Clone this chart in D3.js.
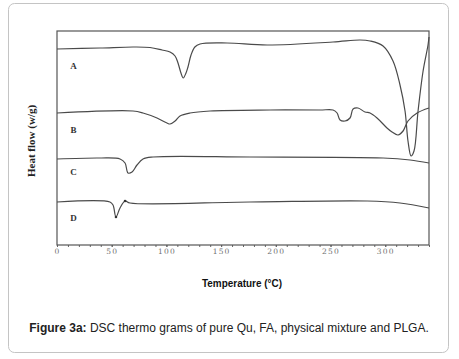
<!DOCTYPE html>
<html>
<head>
<meta charset="utf-8">
<script src="https://cdn.jsdelivr.net/npm/d3@7"></script>
<style>
  body { margin: 0; background: #fff; }
  .tick text { font-family: "DejaVu Serif", serif; font-size: 7.5px; fill: #707070; letter-spacing: 1.2px; }
  .curve { fill: none; stroke: #4a4a4a; stroke-width: 1.2; }
  .curveLabel { font-family: "Liberation Serif", serif; font-weight: bold; font-size: 9px; fill: #333; }
</style>
</head>
<body>
<div id="chart"></div>
<script>
// DSC thermograms: temperature (°C) vs heat flow (arbitrary units, curves offset)
const seriesNames = ["A", "B", "C", "D"];

const curveA = [[0,19.6],[39.3,19.7],[69.5,19.8],[85,19.75],[96,19.5],[103.3,19.3],[107.9,18.9],[110.6,18.2],
  [113.3,17.2],[115.4,16.7],[117.9,17.2],[119.7,17.8],[122.5,19.0],[126,19.8],[130.7,20.1],[155.4,20.2],[192,20.0],
  [252.3,20.3],[277,20.5],[286.1,20.4],[298,19.9],[307.1,18.4],[313.5,16.0],[318.1,13.4],[320.8,10.4],
  [323.6,8.9],[326.3,9.4],[330,13.4],[334.6,17.4],[339.1,20.0],[340,20.8]];

const curveB = [[0,13.2],[69.5,13.4],[78.6,13.2],[91.4,12.7],[100.5,12.2],[103.3,12.1],[107.9,12.4],[112.4,12.9],
  [121.6,13.2],[139.9,13.4],[194.7,13.5],[240.4,13.5],[252.3,13.5],[256,13.2],[258.7,12.5],[263.3,12.4],
  [267.8,12.7],[270.6,13.6],[275.1,13.7],[281.5,13.3],[286.1,13.2],[292.5,12.7],[301.6,11.7],[306.2,11.3],
  [311.7,11.0],[316.3,11.4],[320.8,12.4],[329.1,13.2],[340,13.7]];

const curveC = [[0,8.6],[39.3,8.7],[57.6,8.6],[62.2,8.2],[64.9,7.2],[68.6,7.3],[73.1,8.0],[78.6,8.6],
  [87.8,8.8],[176.4,8.8],[298,8.7],[322.7,8.5],[340,8.2]];

const curveD = [[0,4.3],[48.4,4.3],[51.2,4.0],[53.9,2.8],[57.6,3.7],[62.2,4.4],[66.7,4.2],[176.4,4.3],
  [283.4,4.4],[313.5,4.2],[340,3.7]];

// little dots drawn on the PLGA trace (min and overshoot)
const markD = [[53.9,2.8],[62.2,4.4]];

// where the A/B/C/D letters sit, in data units
const labelValues = [17.9, 11.5, 7.3, 2.7];

const xTicks = [0, 50, 100, 150, 200, 250, 300];
const xMinorTicks = d3.range(0, 341, 10);

const width = 459, height = 359;
const margin = {top: 31, left: 57, right: 30, bottom: 114};

const svg = d3.select("#chart")
    .append("svg")
    .attr("width", width)
    .attr("height", height);

// card border
svg.append("rect")
    .attr("x", 8.5).attr("y", 3.5)
    .attr("width", 440).attr("height", 349)
    .attr("rx", 6)
    .attr("fill", "#fff")
    .attr("stroke", "#c4c4c4")
    .attr("stroke-width", 1);

const xScale = d3.scaleLinear()
    .domain([0, 340])
    .range([margin.left, width - margin.right]);

const yScale = d3.scaleLinear()
    .domain([0, 21.4])
    .range([height - margin.bottom, margin.top]);

const line = d3.line()
    .x(d => xScale(d[0]))
    .y(d => yScale(d[1]))
    .curve(d3.curveCatmullRom.alpha(0.5));

// minor ticks (dots along axis)
svg.append("g")
    .attr("transform", `translate(0,${height - margin.bottom})`)
    .call(d3.axisBottom(xScale).tickValues(xMinorTicks).tickSize(2).tickFormat(""))
    .call(g => g.select(".domain").remove())
    .call(g => g.selectAll("line").attr("stroke", "#666"));

// major tick labels
svg.append("g")
    .attr("transform", `translate(0,${height - margin.bottom})`)
    .call(d3.axisBottom(xScale).tickValues(xTicks).tickSize(2).tickPadding(2))
    .call(g => g.select(".domain").remove())
    .call(g => g.selectAll("line").attr("stroke", "#666"));

// plot frame
svg.append("rect")
    .attr("x", margin.left)
    .attr("y", margin.top)
    .attr("width", width - margin.left - margin.right)
    .attr("height", height - margin.top - margin.bottom)
    .attr("fill", "none")
    .attr("stroke", "#555")
    .attr("stroke-width", 1.2);

const curves = [curveA, curveB, curveC, curveD];

svg.selectAll(".curve")
    .data(curves)
    .enter()
    .append("path")
    .attr("class", "curve")
    .attr("d", d => line(d));

svg.selectAll(".markD")
    .data(markD)
    .enter()
    .append("circle")
    .attr("cx", d => xScale(d[0]))
    .attr("cy", d => yScale(d[1]))
    .attr("r", 1.3)
    .attr("fill", "#333");

svg.selectAll(".curveLabel")
    .data(seriesNames)
    .enter()
    .append("text")
    .attr("class", "curveLabel")
    .attr("x", xScale(15))
    .attr("y", (d, i) => yScale(labelValues[i]) + 3)
    .attr("text-anchor", "middle")
    .text(d => d);

// axis labels
svg.append("text")
    .attr("x", 242)
    .attr("y", 287)
    .attr("text-anchor", "middle")
    .attr("font-family", "Liberation Sans, Arial, sans-serif")
    .attr("font-weight", "bold")
    .attr("font-size", "10px")
    .attr("textLength", 80)
    .attr("lengthAdjust", "spacingAndGlyphs")
    .attr("fill", "#111")
    .text("Temperature (°C)");

svg.append("text")
    .attr("transform", "rotate(-90)")
    .attr("x", -141)
    .attr("y", 35)
    .attr("text-anchor", "middle")
    .attr("font-family", "Liberation Serif, serif")
    .attr("font-weight", "bold")
    .attr("font-size", "11px")
    .attr("fill", "#222")
    .text("Heat flow (w/g)");

// caption
const cap = svg.append("text")
    .attr("x", 229)
    .attr("y", 332)
    .attr("text-anchor", "middle")
    .attr("font-family", "Liberation Sans, Arial, sans-serif")
    .attr("font-size", "12px")
    .attr("fill", "#222");
cap.append("tspan").attr("font-weight", "bold").text("Figure 3a:");
cap.append("tspan").text(" DSC thermo grams of pure Qu, FA, physical mixture and PLGA.");
</script>
</body>
</html>
